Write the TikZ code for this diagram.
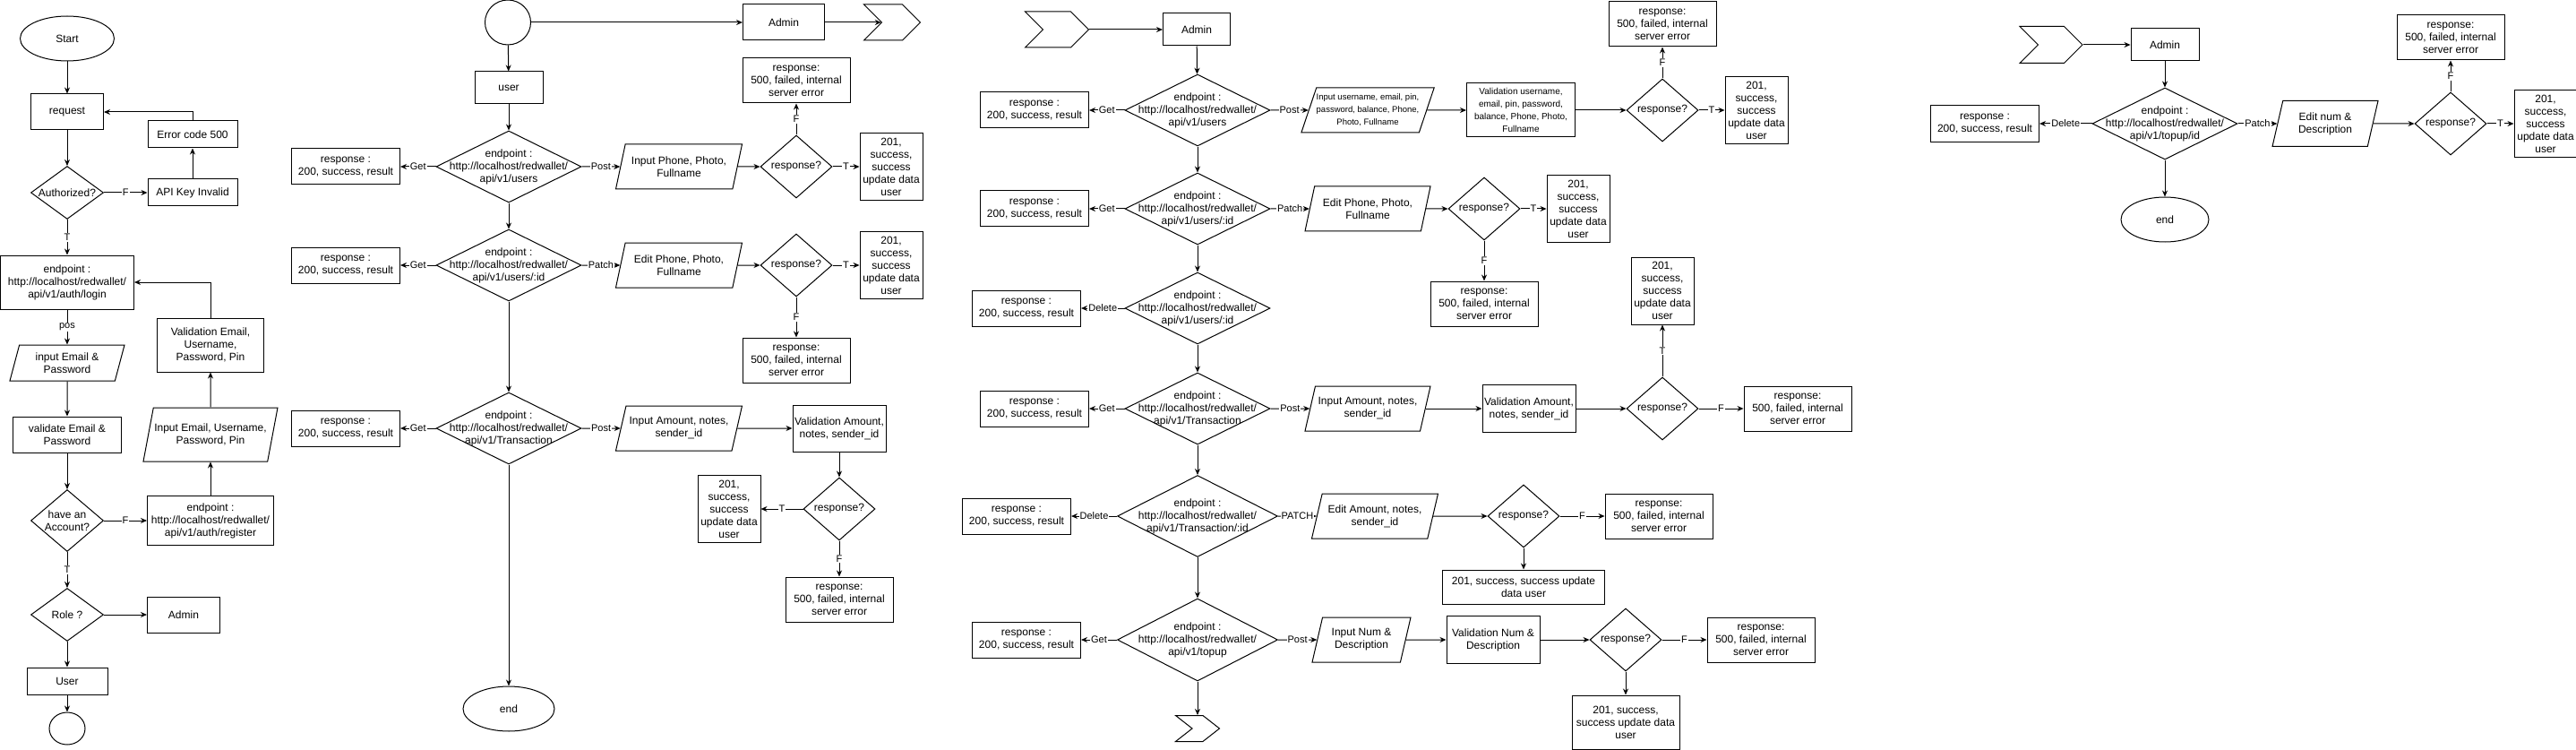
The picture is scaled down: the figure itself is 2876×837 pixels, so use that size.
\documentclass[tikz,border=0pt]{standalone}
\usepackage{fontspec}
\setmainfont{Liberation Sans}
\usepackage{tikz}
\usetikzlibrary{arrows.meta,positioning,shapes.geometric,shapes.symbols}
\tikzstyle{startstop} = [ellipse, draw=black, inner sep=0pt]
\tikzstyle{process} = [rectangle, draw=black, align=center, inner sep=1pt]
\tikzstyle{io} = [trapezium, trapezium left angle=65, trapezium right angle=115, trapezium stretches body, draw=black, align=center, inner sep=0pt]
\tikzstyle{decision} = [diamond, draw=black, inner sep=0pt]
\tikzstyle{pagelink} = [signal, signal from=west, signal to=east, draw=black, inner sep=0pt, minimum width=70pt, minimum height=40pt]
\tikzstyle{endpoint} = [decision, minimum width=162pt, minimum height=80pt]
\tikzstyle{query} = [decision, minimum width=80pt, minimum height=70pt, label={center:response?}]
\tikzstyle{respbox} = [process, minimum width=121pt, minimum height=40pt]
\tikzstyle{failbox} = [process, minimum width=120pt, minimum height=50pt]
\tikzstyle{okbox} = [process, minimum width=70pt, minimum height=75pt]
\tikzstyle{every label} = [align=center, inner sep=0pt]
\tikzstyle{arrow} = [->, >={Stealth[length=7pt,width=6pt]}]
\tikzstyle{elabel} = [fill=white, inner sep=1pt, font=\fontsize{11}{13}\selectfont]

\begin{document}
\begin{tikzpicture}[x=1pt, y=-1pt, line width=1pt, font=\fontsize{12}{14}\selectfont]
\useasboundingbox (0,0) rectangle (2876,837);

% login / register
\node (start) [startstop, minimum width=105pt, minimum height=50pt] at (75,43) {Start};
\node (request) [process, minimum width=81pt, minimum height=40pt] at (75,125) {request};
\node (err500) [process, minimum width=100pt, minimum height=30pt] at (215,150) {Error code 500};
\node (authq) [decision, minimum width=81pt, minimum height=59pt, label={center:Authorized?}] at (75,215) {};
\node (apikey) [process, minimum width=100pt, minimum height=30pt] at (215,215) {API Key Invalid};
\node (login) [process, minimum width=149pt, minimum height=60pt] at (75,315) {endpoint :\\http://localhost/redwallet/\\api/v1/auth/login};
\node (valreg) [process, minimum width=119pt, minimum height=60pt] at (235,385) {Validation Email,\\Username,\\Password, Pin};
\node (inlogin) [io, minimum width=128pt, minimum height=40pt] at (75,405) {input Email \&\\Password};
\node (valmail) [process, minimum width=121pt, minimum height=40pt] at (75,485) {validate Email \&\\Password};
\node (inreg) [io, minimum width=150pt, minimum height=60pt] at (235,485) {Input Email, Username,\\Password, Pin};
\node (acctq) [decision, minimum width=81pt, minimum height=69pt, label={center:have an\\Account?}] at (75,581) {};
\node (register) [process, minimum width=141pt, minimum height=55pt] at (235,581) {endpoint :\\http://localhost/redwallet/\\api/v1/auth/register};
\node (roleq) [decision, minimum width=81pt, minimum height=59pt, label={center:Role ?}] at (75,686) {};
\node (admin1) [process, minimum width=81pt, minimum height=40pt] at (205,686) {Admin};
\node (user1) [process, minimum width=90pt, minimum height=30pt] at (75,760) {User};
\node (link1) [startstop, minimum width=40pt, minimum height=36pt] at (75,813) {};

\draw [arrow] (start) -- (request);
\draw [arrow] (request) -- (authq);
\draw [arrow] (authq) -- node[elabel] {F} (apikey);
\draw [arrow] (apikey) -- (err500);
\draw [arrow] (err500.north) |- (request.east);
\draw [arrow] (authq) -- node[elabel] {T} (login);
\draw [arrow] (login) -- node[elabel] {pos} (inlogin);
\draw [arrow] (inlogin) -- (valmail);
\draw [arrow] (valmail) -- (acctq);
\draw [arrow] (acctq) -- node[elabel] {F} (register);
\draw [arrow] (register) -- (inreg);
\draw [arrow] (inreg) -- (valreg);
\draw [arrow] (valreg.north) |- (login.east);
\draw [arrow] (acctq) -- node[elabel] {T} (roleq);
\draw [arrow] (roleq) -- (admin1);
\draw [arrow] (roleq) -- (user1);
\draw [arrow] (user1) -- (link1);

% user
\node (link2) [startstop, minimum width=51pt, minimum height=50pt] at (567,25) {};
\node (admin2) [process, minimum width=91pt, minimum height=40pt] at (875,25) {Admin};
\node (page2) [pagelink, minimum width=63pt] at (996,25) {};
\node (user2) [process, minimum width=76pt, minimum height=36pt] at (568,98) {user};
\node (users2) [endpoint, label={center:endpoint :\\http://localhost/redwallet/\\api/v1/users}] at (568,186) {};
\node (get2a) [respbox] at (386,186) {response :\\200, success, result};
\node (inphone2) [io, minimum width=141pt, minimum height=50pt] at (758,186) {Input Phone, Photo,\\Fullname};
\node (resq2a) [query] at (889,186) {};
\node (ok2a) [okbox, right=30pt of resq2a] {201,\\success,\\success\\update data\\user};
\node (fail2a) [failbox, above=35pt of resq2a] {response:\\500, failed, internal\\server error};
\node (userid2) [endpoint, label={center:endpoint :\\http://localhost/redwallet/\\api/v1/users/:id}] at (568,296) {};
\node (get2b) [respbox] at (386,296) {response :\\200, success, result};
\node (inedit2) [io, minimum width=141pt, minimum height=50pt] at (758,296) {Edit Phone, Photo,\\Fullname};
\node (resq2b) [query] at (889,296) {};
\node (ok2b) [okbox, right=30pt of resq2b] {201,\\success,\\success\\update data\\user};
\node (fail2b) [failbox, below=45pt of resq2b] {response:\\500, failed, internal\\server error};
\node (trans2) [endpoint, label={center:endpoint :\\http://localhost/redwallet/\\api/v1/Transaction}] at (568,478) {};
\node (get2c) [respbox] at (386,478) {response :\\200, success, result};
\node (inamt2) [io, minimum width=141pt, minimum height=50pt] at (758,478) {Input Amount, notes,\\sender\_id};
\node (valamt2) [process, minimum width=104pt, minimum height=52pt] at (937,478) {Validation Amount,\\notes, sender\_id};
\node (resq2c) [query] at (937,568) {};
\node (ok2c) [okbox, left=47pt of resq2c] {201,\\success,\\success\\update data\\user};
\node (fail2c) [failbox, below=40pt of resq2c] {response:\\500, failed, internal\\server error};
\node (end2) [startstop, minimum width=102pt, minimum height=50pt] at (568,791) {end};

\draw [arrow] (link2) -- (admin2);
\draw [arrow] (admin2) -- (page2);
\draw [arrow] (link2) -- (user2);
\draw [arrow] (user2) -- (users2);
\draw [arrow] (users2) -- node[elabel] {Get} (get2a);
\draw [arrow] (users2) -- node[elabel] {Post} (inphone2);
\draw [arrow] (inphone2) -- (resq2a);
\draw [arrow] (resq2a) -- node[elabel] {T} (ok2a);
\draw [arrow] (resq2a) -- node[elabel] {F} (fail2a);
\draw [arrow] (users2) -- (userid2);
\draw [arrow] (userid2) -- node[elabel] {Get} (get2b);
\draw [arrow] (userid2) -- node[elabel] {Patch} (inedit2);
\draw [arrow] (inedit2) -- (resq2b);
\draw [arrow] (resq2b) -- node[elabel] {T} (ok2b);
\draw [arrow] (resq2b) -- node[elabel] {F} (fail2b);
\draw [arrow] (userid2) -- (trans2);
\draw [arrow] (trans2) -- node[elabel] {Get} (get2c);
\draw [arrow] (trans2) -- node[elabel] {Post} (inamt2);
\draw [arrow] (inamt2) -- (valamt2);
\draw [arrow] (valamt2) -- (resq2c);
\draw [arrow] (resq2c) -- node[elabel] {T} (ok2c);
\draw [arrow] (resq2c) -- node[elabel] {F} (fail2c);
\draw [arrow] (trans2) -- (end2);

% admin
\node (page3a) [pagelink, minimum width=71pt] at (1180,33) {};
\node (admin3) [process, minimum width=75pt, minimum height=36pt] at (1336,33) {Admin};
\node (users3) [endpoint, label={center:endpoint :\\http://localhost/redwallet/\\api/v1/users}] at (1337,123) {};
\node (get3a) [respbox] at (1155,123) {response :\\200, success, result};
\node (innew3) [io, minimum width=140pt, minimum height=50pt, font=\fontsize{9.5}{14}\selectfont] at (1527,123) {Input username, email, pin,\\password, balance, Phone,\\Photo, Fullname};
\node (valnew3) [process, minimum width=121pt, minimum height=60pt, font=\fontsize{10}{14}\selectfont] at (1698,123) {Validation username,\\email, pin, password,\\balance, Phone, Photo,\\Fullname};
\node (resq3a) [query] at (1856,123) {};
\node (ok3a) [okbox, right=29pt of resq3a] {201,\\success,\\success\\update data\\user};
\node (fail3a) [failbox, above=35pt of resq3a] {response:\\500, failed, internal\\server error};
\node (userid3) [endpoint, label={center:endpoint :\\http://localhost/redwallet/\\api/v1/users/:id}] at (1337,233) {};
\node (get3b) [respbox] at (1155,233) {response :\\200, success, result};
\node (inedit3) [io, minimum width=140pt, minimum height=50pt] at (1527,233) {Edit Phone, Photo,\\Fullname};
\node (resq3b) [query] at (1657,233) {};
\node (ok3b) [okbox, right=29pt of resq3b] {201,\\success,\\success\\update data\\user};
\node (fail3b) [failbox, below=45pt of resq3b] {response:\\500, failed, internal\\server error};
\node (delid3) [endpoint, label={center:endpoint :\\http://localhost/redwallet/\\api/v1/users/:id}] at (1337,344) {};
\node (del3c) [respbox] at (1146,344) {response :\\200, success, result};
\node (trans3) [endpoint, label={center:endpoint :\\http://localhost/redwallet/\\api/v1/Transaction}] at (1337,456) {};
\node (get3d) [respbox] at (1155,456) {response :\\200, success, result};
\node (inamt3) [io, minimum width=140pt, minimum height=50pt] at (1527,456) {Input Amount, notes,\\sender\_id};
\node (valamt3) [process, minimum width=104pt, minimum height=53pt] at (1707,456) {Validation Amount,\\notes, sender\_id};
\node (resq3d) [query] at (1856,456) {};
\node (fail3d) [failbox, right=50pt of resq3d] {response:\\500, failed, internal\\server error};
\node (ok3d) [okbox, above=58pt of resq3d] {201,\\success,\\success\\update data\\user};
\node (transid3) [decision, minimum width=179pt, minimum height=91pt, label={center:endpoint :\\http://localhost/redwallet/\\api/v1/Transaction/:id}] at (1337,576) {};
\node (del3e) [respbox] at (1135,576) {response :\\200, success, result};
\node (inedamt3) [io, minimum width=141pt, minimum height=50pt] at (1535,576) {Edit Amount, notes,\\sender\_id};
\node (resq3e) [query] at (1701,576) {};
\node (fail3e) [failbox, right=50pt of resq3e] {response:\\500, failed, internal\\server error};
\node (ok3e) [process, minimum width=181pt, minimum height=38pt, below=24pt of resq3e] {201, success, success update\\data user};
\node (topup3) [decision, minimum width=179pt, minimum height=92pt, label={center:endpoint :\\http://localhost/redwallet/\\api/v1/topup}] at (1337,714) {};
\node (get3f) [respbox] at (1146,714) {response :\\200, success, result};
\node (innum3) [io, minimum width=110pt, minimum height=50pt] at (1520,714) {Input Num \&\\Description};
\node (valnum3) [process, minimum width=104pt, minimum height=53pt] at (1667,714) {Validation Num \&\\Description};
\node (resq3f) [query] at (1815,714) {};
\node (fail3f) [failbox, right=50pt of resq3f] {response:\\500, failed, internal\\server error};
\node (ok3f) [process, minimum width=120pt, minimum height=60pt, below=26pt of resq3f] {201, success,\\success update data\\user};
\node (page3b) [pagelink, minimum width=49pt, minimum height=29pt, signal pointer angle=76] at (1337,813) {};

\draw [arrow] (page3a) -- (admin3);
\draw [arrow] (admin3) -- (users3);
\draw [arrow] (users3) -- node[elabel] {Get} (get3a);
\draw [arrow] (users3) -- node[elabel] {Post} (innew3);
\draw [arrow] (innew3) -- (valnew3);
\draw [arrow] (valnew3) -- (resq3a);
\draw [arrow] (resq3a) -- node[elabel] {T} (ok3a);
\draw [arrow] (resq3a) -- node[elabel] {F} (fail3a);
\draw [arrow] (users3) -- (userid3);
\draw [arrow] (userid3) -- node[elabel] {Get} (get3b);
\draw [arrow] (userid3) -- node[elabel] {Patch} (inedit3);
\draw [arrow] (inedit3) -- (resq3b);
\draw [arrow] (resq3b) -- node[elabel] {T} (ok3b);
\draw [arrow] (resq3b) -- node[elabel] {F} (fail3b);
\draw [arrow] (userid3) -- (delid3);
\draw [arrow] (delid3) -- node[elabel] {Delete} (del3c);
\draw [arrow] (delid3) -- (trans3);
\draw [arrow] (trans3) -- node[elabel] {Get} (get3d);
\draw [arrow] (trans3) -- node[elabel] {Post} (inamt3);
\draw [arrow] (inamt3) -- (valamt3);
\draw [arrow] (valamt3) -- (resq3d);
\draw [arrow] (resq3d) -- node[elabel] {F} (fail3d);
\draw [arrow] (resq3d) -- node[elabel] {T} (ok3d);
\draw [arrow] (trans3) -- (transid3);
\draw [arrow] (transid3) -- node[elabel] {Delete} (del3e);
\draw [arrow] (transid3) -- node[elabel] {PATCH} (inedamt3);
\draw [arrow] (inedamt3) -- (resq3e);
\draw [arrow] (resq3e) -- node[elabel] {F} (fail3e);
\draw [arrow] (resq3e) -- (ok3e);
\draw [arrow] (transid3) -- (topup3);
\draw [arrow] (topup3) -- node[elabel] {Get} (get3f);
\draw [arrow] (topup3) -- node[elabel] {Post} (innum3);
\draw [arrow] (innum3) -- (valnum3);
\draw [arrow] (valnum3) -- (resq3f);
\draw [arrow] (resq3f) -- node[elabel] {F} (fail3f);
\draw [arrow] (resq3f) -- (ok3f);
\draw [arrow] (topup3) -- (page3b);

% admin topup
\node (page4) [pagelink, minimum width=70pt, minimum height=41pt] at (2290,50) {};
\node (admin4) [process, minimum width=76pt, minimum height=36pt] at (2417,50) {Admin};
\node (topupid4) [endpoint, label={center:endpoint :\\http://localhost/redwallet/\\api/v1/topup/id}] at (2417,138) {};
\node (del4) [respbox, minimum height=41pt] at (2216,138) {response :\\200, success, result};
\node (end4) [startstop, minimum width=98pt, minimum height=50pt] at (2417,245) {end};
\node (inedit4) [io, minimum width=118pt, minimum height=51pt] at (2596,138) {Edit num \&\\Description};
\node (resq4) [query] at (2736,138) {};
\node (ok4) [okbox, right=30pt of resq4] {201,\\success,\\success\\update data\\user};
\node (fail4) [failbox, above=35pt of resq4] {response:\\500, failed, internal\\server error};

\draw [arrow] (page4) -- (admin4);
\draw [arrow] (admin4) -- (topupid4);
\draw [arrow] (topupid4) -- node[elabel] {Delete} (del4);
\draw [arrow] (topupid4) -- node[elabel] {Patch} (inedit4);
\draw [arrow] (inedit4) -- (resq4);
\draw [arrow] (resq4) -- node[elabel] {T} (ok4);
\draw [arrow] (resq4) -- node[elabel] {F} (fail4);
\draw [arrow] (topupid4) -- (end4);

\end{tikzpicture}
\end{document}
